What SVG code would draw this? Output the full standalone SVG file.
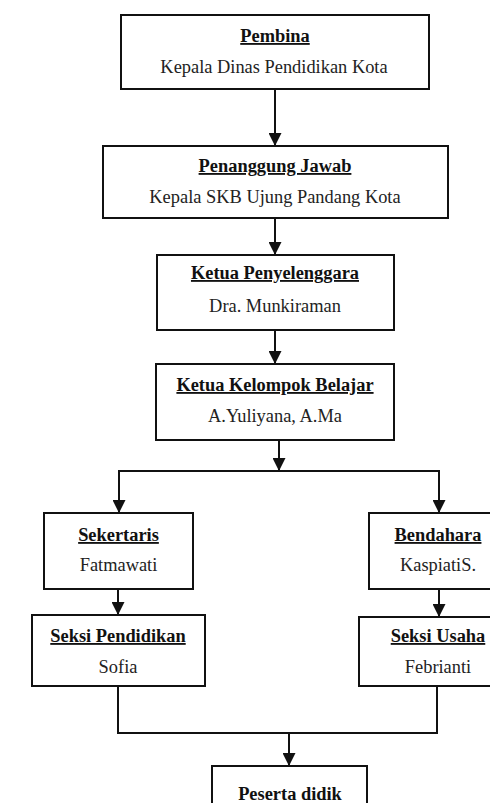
<svg xmlns="http://www.w3.org/2000/svg" width="490" height="803" viewBox="0 0 490 803">
  <style>
    .box { fill: #fff; stroke: #111; stroke-width: 2; }
    .title { font-family: "Liberation Serif", "Times New Roman", serif; font-size: 18.4px; font-weight: bold; fill: #111; text-anchor: middle; text-decoration: underline; }
    .plain { font-family: "Liberation Serif", "Times New Roman", serif; font-size: 18.4px; fill: #222; text-anchor: middle; }
    .bold { font-family: "Liberation Serif", "Times New Roman", serif; font-size: 18.4px; font-weight: bold; fill: #111; text-anchor: middle; }
    .conn { fill: none; stroke: #111; stroke-width: 2; }
    .arrow { fill: none; stroke: #111; stroke-width: 2; marker-end: url(#head); }
  </style>
  <defs>
    <marker id="head" markerUnits="userSpaceOnUse" markerWidth="13" markerHeight="13" refX="13" refY="6.5" orient="auto">
      <path d="M0,0 L13,6.5 L0,13 z" fill="#111"/>
    </marker>
  </defs>

  <rect width="490" height="803" fill="#fff"/>

  <!-- connectors -->
  <g id="connectors">
    <line class="arrow" x1="275" y1="89" x2="275" y2="146"/>
    <line class="arrow" x1="275" y1="218" x2="275" y2="255"/>
    <line class="arrow" x1="275" y1="330" x2="275" y2="364"/>
    <line class="arrow" x1="279" y1="440" x2="279" y2="471"/>
    <line class="conn" x1="118" y1="471" x2="440" y2="471"/>
    <line class="arrow" x1="119" y1="471" x2="119" y2="513"/>
    <line class="arrow" x1="439" y1="471" x2="439" y2="513"/>
    <line class="arrow" x1="118" y1="589" x2="118" y2="615"/>
    <line class="arrow" x1="439" y1="589" x2="439" y2="617"/>
    <polyline class="conn" points="118,686 118,733 437,733 437,686"/>
    <line class="arrow" x1="289" y1="733" x2="289" y2="766"/>
  </g>

  <g id="pembina">
    <rect class="box" x="121" y="15" width="308" height="74"/>
    <text class="title" x="275" y="42">Pembina</text>
    <text class="plain" x="274" y="73">Kepala Dinas Pendidikan Kota</text>
  </g>

  <g id="penanggung-jawab">
    <rect class="box" x="103" y="146" width="345" height="72"/>
    <text class="title" x="275" y="172">Penanggung Jawab</text>
    <text class="plain" x="275" y="203">Kepala SKB Ujung Pandang Kota</text>
  </g>

  <g id="ketua-penyelenggara">
    <rect class="box" x="157" y="255" width="237" height="75"/>
    <text class="title" x="275" y="279">Ketua Penyelenggara</text>
    <text class="plain" x="275" y="312">Dra. Munkiraman</text>
  </g>

  <g id="ketua-kelompok">
    <rect class="box" x="156" y="364" width="238" height="76"/>
    <text class="title" x="275" y="391">Ketua Kelompok Belajar</text>
    <text class="plain" x="275" y="422">A.Yuliyana, A.Ma</text>
  </g>

  <g id="sekertaris">
    <rect class="box" x="44" y="513" width="149" height="76"/>
    <text class="title" x="118.5" y="541">Sekertaris</text>
    <text class="plain" x="118.5" y="571">Fatmawati</text>
  </g>

  <g id="bendahara">
    <rect class="box" x="369" y="513" width="140" height="76"/>
    <text class="title" x="438" y="541">Bendahara</text>
    <text class="plain" x="438" y="571">KaspiatiS.</text>
  </g>

  <g id="seksi-pendidikan">
    <rect class="box" x="32" y="615" width="173" height="71"/>
    <text class="title" x="118" y="642">Seksi Pendidikan</text>
    <text class="plain" x="118" y="673">Sofia</text>
  </g>

  <g id="seksi-usaha">
    <rect class="box" x="359" y="617" width="160" height="69"/>
    <text class="title" x="438" y="642">Seksi Usaha</text>
    <text class="plain" x="438" y="673">Febrianti</text>
  </g>

  <g id="peserta-didik">
    <rect class="box" x="212" y="766" width="155" height="60"/>
    <text class="bold" x="290" y="800">Peserta didik</text>
  </g>
</svg>
